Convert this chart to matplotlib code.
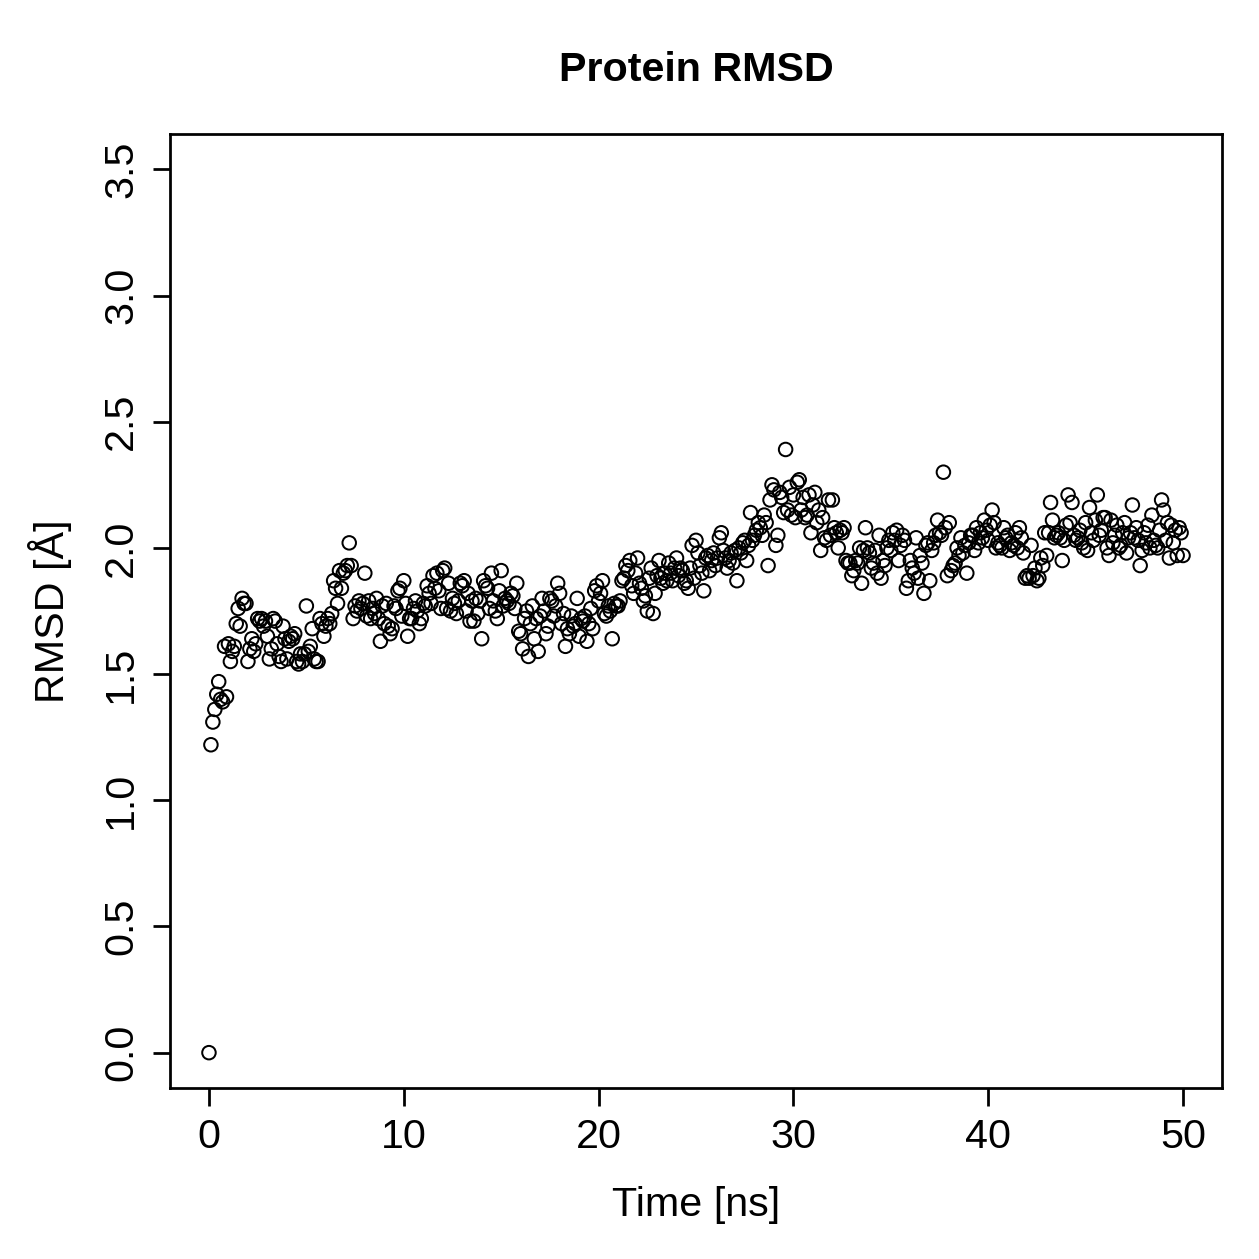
import matplotlib
matplotlib.use("Agg")
import matplotlib.pyplot as plt
import numpy as np

# RMSD values, one row per ns (0.1 ns steps)
rmsd_rows = [
    [0.00, 1.22, 1.31, 1.36, 1.42, 1.47, 1.40, 1.39, 1.61, 1.41],
    [1.62, 1.55, 1.59, 1.61, 1.70, 1.76, 1.69, 1.80, 1.78, 1.78],
    [1.55, 1.60, 1.64, 1.59, 1.62, 1.72, 1.71, 1.72, 1.69, 1.71],
    [1.65, 1.56, 1.60, 1.72, 1.71, 1.62, 1.57, 1.55, 1.69, 1.64],
    [1.56, 1.63, 1.65, 1.64, 1.66, 1.55, 1.54, 1.58, 1.55, 1.58],
    [1.77, 1.59, 1.61, 1.68, 1.56, 1.55, 1.55, 1.72, 1.70, 1.65],
    [1.69, 1.72, 1.70, 1.74, 1.87, 1.84, 1.78, 1.91, 1.84, 1.90],
    [1.91, 1.93, 2.02, 1.93, 1.72, 1.77, 1.75, 1.79, 1.76, 1.78],
    [1.90, 1.73, 1.79, 1.72, 1.76, 1.74, 1.80, 1.72, 1.63, 1.77],
    [1.70, 1.78, 1.69, 1.66, 1.68, 1.77, 1.76, 1.83, 1.84, 1.73],
    [1.87, 1.78, 1.65, 1.72, 1.72, 1.76, 1.79, 1.75, 1.70, 1.72],
    [1.78, 1.77, 1.85, 1.82, 1.78, 1.89, 1.84, 1.90, 1.83, 1.76],
    [1.91, 1.92, 1.76, 1.86, 1.75, 1.80, 1.78, 1.74, 1.79, 1.86],
    [1.85, 1.87, 1.75, 1.82, 1.71, 1.79, 1.71, 1.80, 1.74, 1.79],
    [1.64, 1.87, 1.85, 1.84, 1.76, 1.90, 1.79, 1.75, 1.72, 1.83],
    [1.91, 1.77, 1.80, 1.79, 1.78, 1.82, 1.81, 1.76, 1.86, 1.67],
    [1.66, 1.60, 1.72, 1.75, 1.57, 1.70, 1.77, 1.64, 1.72, 1.59],
    [1.73, 1.80, 1.75, 1.66, 1.69, 1.80, 1.79, 1.73, 1.77, 1.86],
    [1.82, 1.70, 1.74, 1.61, 1.68, 1.66, 1.73, 1.69, 1.70, 1.80],
    [1.65, 1.72, 1.71, 1.73, 1.63, 1.70, 1.76, 1.68, 1.83, 1.85],
    [1.79, 1.82, 1.87, 1.74, 1.73, 1.77, 1.75, 1.64, 1.78, 1.77],
    [1.77, 1.79, 1.87, 1.88, 1.93, 1.91, 1.95, 1.85, 1.82, 1.90],
    [1.96, 1.86, 1.84, 1.79, 1.81, 1.75, 1.88, 1.92, 1.74, 1.82],
    [1.89, 1.95, 1.88, 1.86, 1.90, 1.87, 1.94, 1.90, 1.87, 1.92],
    [1.96, 1.89, 1.92, 1.91, 1.86, 1.87, 1.84, 1.92, 2.01, 1.88],
    [2.03, 1.98, 1.93, 1.90, 1.83, 1.96, 1.97, 1.91, 1.95, 1.98],
    [1.93, 1.96, 2.04, 2.06, 1.99, 1.96, 1.92, 1.95, 1.98, 1.94],
    [1.99, 1.87, 2.00, 1.98, 2.02, 2.03, 1.95, 2.01, 2.14, 2.03],
    [2.05, 2.07, 2.10, 2.08, 2.05, 2.13, 2.10, 1.93, 2.19, 2.25],
    [2.23, 2.01, 2.05, 2.22, 2.20, 2.14, 2.39, 2.15, 2.24, 2.13],
    [2.21, 2.12, 2.26, 2.27, 2.15, 2.20, 2.12, 2.13, 2.21, 2.06],
    [2.17, 2.22, 2.10, 2.15, 1.99, 2.12, 2.04, 2.03, 2.19, 2.05],
    [2.19, 2.08, 2.06, 2.00, 2.07, 2.06, 2.08, 1.95, 1.94, 1.94],
    [1.89, 1.91, 1.95, 1.94, 2.00, 1.86, 1.99, 2.08, 2.00, 1.98],
    [1.92, 1.94, 1.99, 1.90, 2.05, 1.88, 1.95, 1.93, 2.00, 2.03],
    [1.99, 2.06, 2.03, 2.07, 1.95, 2.01, 2.05, 2.03, 1.84, 1.87],
    [1.95, 1.92, 1.90, 2.04, 1.88, 1.97, 1.94, 1.82, 2.01, 2.02],
    [1.87, 1.99, 2.02, 2.05, 2.11, 2.06, 2.05, 2.30, 2.08, 1.89],
    [2.10, 1.91, 1.93, 1.94, 2.00, 1.97, 2.04, 1.98, 2.01, 1.90],
    [2.02, 2.05, 2.05, 1.99, 2.08, 2.02, 2.06, 2.04, 2.11, 2.07],
    [2.03, 2.09, 2.15, 2.10, 2.00, 2.02, 2.01, 2.00, 2.08, 2.04],
    [2.05, 1.99, 2.02, 2.01, 2.06, 2.00, 2.08, 2.04, 1.98, 1.88],
    [1.89, 1.88, 2.01, 1.89, 1.92, 1.87, 1.88, 1.96, 1.93, 2.06],
    [1.97, 2.06, 2.18, 2.11, 2.04, 2.05, 2.06, 2.04, 1.95, 2.03],
    [2.09, 2.21, 2.10, 2.18, 2.05, 2.03, 2.04, 2.07, 2.02, 2.00],
    [2.10, 1.99, 2.16, 2.06, 2.03, 2.11, 2.21, 2.05, 2.07, 2.12],
    [2.12, 2.00, 1.97, 2.11, 2.02, 2.05, 2.09, 2.00, 2.01, 2.06],
    [2.10, 1.98, 2.04, 2.06, 2.17, 2.04, 2.08, 2.03, 1.93, 1.99],
    [2.06, 2.02, 2.09, 2.00, 2.13, 2.03, 2.01, 2.00, 2.07, 2.19],
    [2.15, 2.03, 2.10, 1.96, 2.09, 2.02, 2.07, 1.97, 2.08, 2.06],
    [1.97],
]
rmsd = np.concatenate([np.array(r) for r in rmsd_rows])
time_ns = np.arange(len(rmsd)) * 0.1

x_ticks = [0, 10, 20, 30, 40, 50]
y_ticks = [0.0, 0.5, 1.0, 1.5, 2.0, 2.5, 3.0, 3.5]

plt.rcParams['font.family'] = ['Liberation Sans', 'DejaVu Sans']

fig = plt.figure(figsize=(1259 / 180, 1259 / 180), dpi=180)
ax = fig.add_axes([170 / 1259, 1 - 1088 / 1259, 1052 / 1259, 954 / 1259])

ax.scatter(time_ns, rmsd, s=5.4 ** 2, facecolors='none', edgecolors='black',
           linewidths=0.8)

ax.set_xlim(-2, 52)
ax.set_ylim(-0.14, 3.64)
ax.set_xticks(x_ticks)
ax.set_xticklabels([str(t) for t in x_ticks])
ax.set_yticks(y_ticks)
ax.set_yticklabels(['%.1f' % t for t in y_ticks], rotation=90, va='center')

for sp in ax.spines.values():
    sp.set_linewidth(1.1)
ax.tick_params(direction='out', length=7, width=1.1, labelsize=16.5, pad=5)

ax.set_xlabel('Time [ns]', fontsize=16.5, labelpad=12)
ax.set_ylabel('RMSD [Å]', fontsize=16.5, labelpad=12)
fig.text(0.5 * (170 + 1222) / 1259, 1 - 70 / 1259, 'Protein RMSD',
         fontsize=16.5, fontweight='bold', ha='center', va='center')

fig.savefig('out.png', dpi=180)
